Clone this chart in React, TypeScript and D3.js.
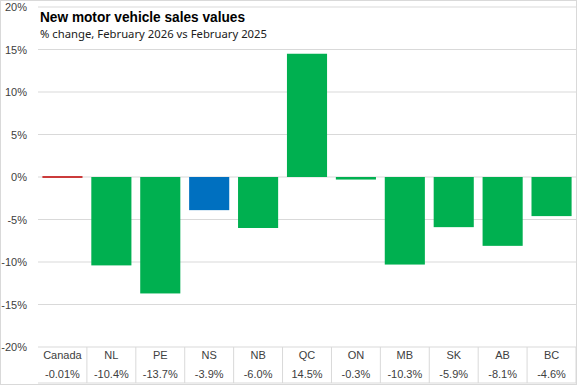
import React from "react";
import * as d3 from "d3";

const categories = ["Canada", "NL", "PE", "NS", "NB", "QC", "ON", "MB", "SK", "AB", "BC"];
const values = [-0.01, -10.4, -13.7, -3.9, -6.0, 14.5, -0.3, -10.3, -5.9, -8.1, -4.6];
const valueLabels = ["-0.01%", "-10.4%", "-13.7%", "-3.9%", "-6.0%", "14.5%", "-0.3%", "-10.3%", "-5.9%", "-8.1%", "-4.6%"];
const tickValues = [20, 15, 10, 5, 0, -5, -10, -15, -20];
const barColors: Record<string, string> = { Canada: "#C00000", NS: "#0070C0" };
const defaultColor = "#00B050";

const W = 577;
const H = 385;
const M = { left: 38, right: 576, top: 7, bottom: 347 };

export default function App() {
  React.useEffect(() => {
    document.body.style.margin = "0";
  }, []);
  const x = d3.scaleBand<string>().domain(categories).range([M.left, M.right]).paddingInner(0.18).paddingOuter(0.09);
  const xCol = d3.scaleBand<string>().domain(categories).range([M.left, M.right]);
  const y = d3.scaleLinear().domain([-20, 20]).range([M.bottom, M.top]);
  const font = "'Liberation Sans', Arial, sans-serif";
  return (
    <svg width={W} height={H} style={{ display: "block" }}>
      <rect x={0.5} y={0.5} width={W - 1} height={H - 1} fill="#fff" stroke="#d9d9d9" />
      {tickValues.map((t) => (
        <g key={t}>
          <line x1={M.left} x2={M.right} y1={y(t)} y2={y(t)} stroke="#d9d9d9" strokeWidth={1} />
          <text x={27} y={y(t) + 4} textAnchor="end" fontSize={11} fill="#404040" fontFamily={font}>
            {t}%
          </text>
        </g>
      ))}
      {categories.map((c, i) => {
        const v = values[i];
        const y0 = y(Math.max(0, v));
        const h = Math.max(Math.abs(y(v) - y(0)), 1.5);
        return (
          <rect key={c} x={x(c)} y={v < 0 ? y(0) - (Math.abs(y(v) - y(0)) < 1.5 ? 0.75 : 0) : y0} width={x.bandwidth()} height={h} fill={barColors[c] ?? defaultColor} />
        );
      })}
      {/* data table */}
      <line x1={M.left} x2={M.right} y1={H - 2} y2={H - 2} stroke="#d9d9d9" />
      {categories.map((c, i) => (
        <g key={"t" + c}>
          {i > 0 && <line x1={xCol(c)} x2={xCol(c)} y1={M.bottom} y2={H - 2} stroke="#d9d9d9" />}
          <text x={(xCol(c) ?? 0) + xCol.bandwidth() / 2} y={359} textAnchor="middle" fontSize={11} fill="#404040" fontFamily={font}>
            {c}
          </text>
          <text x={(xCol(c) ?? 0) + xCol.bandwidth() / 2} y={378} textAnchor="middle" fontSize={11} fill="#404040" fontFamily={font}>
            {valueLabels[i]}
          </text>
        </g>
      ))}
      <line x1={M.right} x2={M.right} y1={M.bottom} y2={H - 2} stroke="#d9d9d9" />
      <text x={40} y={22} fontSize={15.5} fontWeight="bold" fill="#000" fontFamily={font} textLength={205} lengthAdjust="spacingAndGlyphs">
        New motor vehicle sales values
      </text>
      <text x={40} y={38} fontSize={11.5} fill="#202020" fontFamily="'Noto Sans', sans-serif" textLength={227} lengthAdjust="spacingAndGlyphs">
        % change, February 2026 vs February 2025
      </text>
    </svg>
  );
}
